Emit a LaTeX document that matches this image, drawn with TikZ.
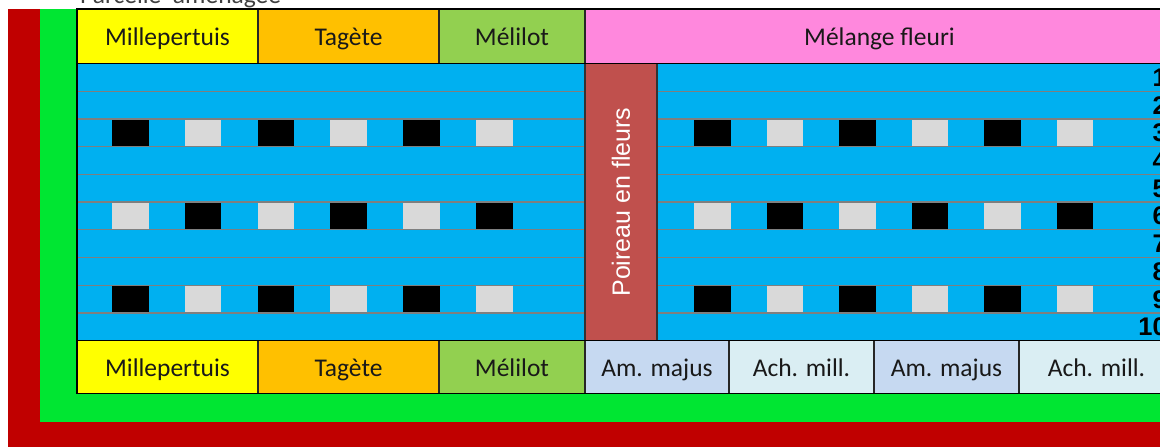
\documentclass[tikz,border=0pt]{standalone}
\usepackage{fontspec}
\setmainfont{Carlito}
\newfontfamily\arialf{Liberation Sans}
\definecolor{bordred}{HTML}{C00000}
\definecolor{bordgreen}{HTML}{00E632}
\definecolor{cyellow}{HTML}{FFFF00}
\definecolor{corange}{HTML}{FFC000}
\definecolor{cmelilot}{HTML}{92D050}
\definecolor{cpink}{HTML}{FF88DD}
\definecolor{cblue}{HTML}{00B0F0}
\definecolor{cpoireau}{HTML}{C0504D}
\definecolor{cgreysq}{HTML}{D9D9D9}
\definecolor{cline}{HTML}{7F7F7F}
\definecolor{camajus}{HTML}{C6D9F1}
\definecolor{cachill}{HTML}{DAEEF3}
\definecolor{ctitle}{HTML}{404040}
\tikzset{
  cell/.style={draw=black!85, line width=1.1pt, inner sep=0pt, font=\fontsize{25.5}{28}\selectfont, text=black!90, text height=22pt, text depth=4.2pt},
  rowline/.style={draw=cline, line width=1.3pt},
  blacksq/.style={fill=black},
  greysq/.style={fill=cgreysq},
  numlab/.style={anchor=east, inner sep=0pt, font=\arialf\bfseries\fontsize{25.5}{28}\selectfont, text=black, text height=18pt, text depth=0pt},
}
\begin{document}
\begin{tikzpicture}[x=1pt,y=-1pt]
\useasboundingbox (0,0) rectangle (1160,447);
\clip (0,0) rectangle (1160,447);
% borders
\fill[white] (0,0) rectangle (1160,447);
\fill[bordred] (8,9) rectangle (1200,460);
\fill[bordgreen] (40,9) rectangle (1200,422);
% title
\node[anchor=base west, inner sep=0pt, font=\fontsize{25.5}{28}\selectfont, text=ctitle] (title) at (80,3) {Parcelle\ \ aménagée};
% blue area
\fill[cblue] (77,63.5) rectangle (1174,340.7);
\foreach \k in {1,...,9}{
  \pgfmathsetmacro{\yy}{63.5+\k*27.72}
  \draw[rowline] (77,\yy) -- (585,\yy);
  \draw[rowline] (657,\yy) -- (1174,\yy);
}
% squares
\foreach \r/\first in {3/b,6/g,9/b}{
  \pgfmathsetmacro{\yt}{63.5+(\r-1)*27.72+0.6}
  \pgfmathsetmacro{\yb}{63.5+\r*27.72-0.6}
  \foreach \i in {0,...,5}{
    \pgfmathsetmacro{\xl}{112+\i*72.8}
    \pgfmathsetmacro{\xr}{694+\i*72.5}
    \pgfmathtruncatemacro{\parity}{mod(\i,2)}
    \ifnum\parity=0
      \if\first b\def\st{blacksq}\else\def\st{greysq}\fi
    \else
      \if\first b\def\st{greysq}\else\def\st{blacksq}\fi
    \fi
    \fill[\st] (\xl,\yt) rectangle (\xl+36.5,\yb);
    \fill[\st] (\xr,\yt) rectangle (\xr+36.5,\yb);
  }
}
% poireau
\node[draw=black!80, line width=1.1pt, fill=cpoireau, minimum width=72pt, minimum height=277.2pt, inner sep=0pt] (poireau) at (621,202.1) {};
\node[rotate=90, text=white, font=\arialf\fontsize{25}{28}\selectfont, inner sep=0pt] (poireaulab) at (poireau.center) {Poireau en fleurs};
% numbers
\foreach \n in {1,...,10}{
  \node[numlab] (num\n) at (1167,{63.5+(\n-0.5)*27.72}) {\n};
}
% header
\node[cell, fill=cyellow, minimum width=181pt, minimum height=54.5pt] (h1) at (167.5,36.25) {Millepertuis};
\node[cell, fill=corange, minimum width=181pt, minimum height=54.5pt] (h2) at (348.5,36.25) {Tagète};
\node[cell, fill=cmelilot, minimum width=146pt, minimum height=54.5pt] (h3) at (512,36.25) {Mélilot};
\node[cell, fill=cpink, minimum width=589pt, minimum height=54.5pt] (h4) at (879.5,36.25) {Mélange fleuri};
% bottom row
\node[cell, fill=cyellow, minimum width=181pt, minimum height=53pt] (b1) at (167.5,367.3) {Millepertuis};
\node[cell, fill=corange, minimum width=181pt, minimum height=53pt] (b2) at (348.5,367.3) {Tagète};
\node[cell, fill=cmelilot, minimum width=146pt, minimum height=53pt] (b3) at (512,367.3) {Mélilot};
\node[cell, fill=camajus, minimum width=144pt, minimum height=53pt] (b4) at (657,367.3) {Am. majus};
\node[cell, fill=cachill, minimum width=145pt, minimum height=53pt] (b5) at (801.5,367.3) {Ach. mill.};
\node[cell, fill=camajus, minimum width=145pt, minimum height=53pt] (b6) at (946.5,367.3) {Am. majus};
\node[cell, fill=cachill, minimum width=155pt, minimum height=53pt] (b7) at (1096.5,367.3) {Ach. mill.};
% outer border
\draw[black, line width=1.3pt] (77,9) rectangle (1174,393.8);
\draw[black, line width=1.1pt] (77,63.5) -- (1174,63.5);
\draw[black, line width=1.1pt] (77,340.7) -- (1174,340.7);
\end{tikzpicture}
\end{document}
